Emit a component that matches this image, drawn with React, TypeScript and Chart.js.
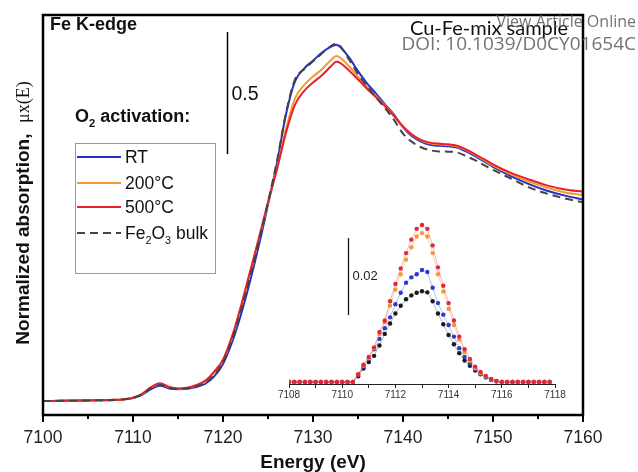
import React, { useEffect, useRef } from "react";
import { Chart, registerables } from "chart.js";
Chart.register(...registerables);

const SANS = "'Liberation Sans', Arial, sans-serif";
Chart.defaults.font.family = SANS;

// ---------- main XANES spectra ----------
const energies = [7100, 7102, 7104, 7106, 7108, 7109, 7110, 7111, 7112, 7113, 7114, 7115, 7116, 7117, 7118, 7119, 7120, 7121, 7122, 7123, 7124, 7125, 7126, 7127, 7128, 7129, 7130, 7131, 7132, 7132.6, 7133, 7134, 7135, 7136, 7137, 7138, 7139, 7140, 7141, 7142, 7143, 7144, 7145, 7146, 7147, 7148, 7149, 7150, 7152, 7154, 7156, 7158, 7160];

const muRT = [0.000, 0.001, 0.002, 0.003, 0.004, 0.007, 0.013, 0.026, 0.049, 0.063, 0.052, 0.049, 0.051, 0.058, 0.070, 0.100, 0.152, 0.240, 0.355, 0.490, 0.640, 0.805, 0.975, 1.175, 1.310, 1.362, 1.395, 1.428, 1.452, 1.460, 1.452, 1.408, 1.352, 1.302, 1.260, 1.216, 1.174, 1.122, 1.085, 1.063, 1.050, 1.046, 1.044, 1.039, 1.023, 1.004, 0.982, 0.960, 0.922, 0.889, 0.862, 0.842, 0.826];

const mu200 = [0.000, 0.001, 0.002, 0.003, 0.005, 0.008, 0.014, 0.029, 0.055, 0.070, 0.057, 0.051, 0.054, 0.064, 0.081, 0.117, 0.166, 0.260, 0.385, 0.525, 0.665, 0.812, 0.955, 1.115, 1.240, 1.295, 1.330, 1.360, 1.398, 1.414, 1.408, 1.372, 1.330, 1.288, 1.250, 1.211, 1.170, 1.124, 1.090, 1.068, 1.056, 1.052, 1.049, 1.043, 1.028, 1.009, 0.987, 0.965, 0.929, 0.899, 0.874, 0.855, 0.844];

const mu500 = [0.000, 0.001, 0.002, 0.003, 0.005, 0.008, 0.014, 0.030, 0.057, 0.073, 0.058, 0.052, 0.055, 0.065, 0.083, 0.120, 0.170, 0.265, 0.390, 0.530, 0.670, 0.815, 0.950, 1.100, 1.215, 1.270, 1.305, 1.335, 1.372, 1.390, 1.386, 1.355, 1.318, 1.280, 1.245, 1.208, 1.168, 1.125, 1.092, 1.070, 1.059, 1.055, 1.052, 1.046, 1.031, 1.012, 0.991, 0.970, 0.935, 0.908, 0.884, 0.867, 0.858];

const muFe2O3 = [0.000, 0.001, 0.002, 0.003, 0.004, 0.007, 0.013, 0.027, 0.052, 0.066, 0.054, 0.050, 0.052, 0.060, 0.074, 0.106, 0.158, 0.250, 0.370, 0.505, 0.655, 0.815, 0.985, 1.180, 1.318, 1.360, 1.392, 1.425, 1.455, 1.465, 1.455, 1.400, 1.340, 1.290, 1.245, 1.200, 1.152, 1.096, 1.062, 1.040, 1.028, 1.023, 1.022, 1.019, 1.004, 0.987, 0.967, 0.947, 0.912, 0.876, 0.850, 0.830, 0.815];

const xMajorTicks = [7100, 7110, 7120, 7130, 7140, 7150, 7160];
const xMinorTicks = [7105, 7115, 7125, 7135, 7145, 7155];
const scaleBarMain = [1.012, 1.512]; // 0.5 units
const scaleBarMainE = 7120.4;

// ---------- inset: pre-edge peak ----------
const insetE = [7108.0, 7108.2, 7108.4, 7108.6, 7108.8, 7109.0, 7109.2, 7109.4, 7109.6, 7109.8, 7110.0, 7110.2, 7110.4, 7110.6, 7110.8, 7111.0, 7111.2, 7111.4, 7111.6, 7111.8, 7112.0, 7112.2, 7112.4, 7112.6, 7112.8, 7113.0, 7113.2, 7113.4, 7113.6, 7113.8, 7114.0, 7114.2, 7114.4, 7114.6, 7114.8, 7115.0, 7115.2, 7115.4, 7115.6, 7115.8, 7116.0, 7116.2, 7116.4, 7116.6, 7116.8, 7117.0, 7117.2, 7117.4, 7117.6, 7117.8];

const preRT = [0, 0, 0, 0, 0, 0, 0, 0, 0, 0, 0, 0, 0, 0.0018, 0.0040, 0.0060, 0.0085, 0.0112, 0.0140, 0.0168, 0.0202, 0.0232, 0.0258, 0.0272, 0.0280, 0.0291, 0.0286, 0.0245, 0.0205, 0.0175, 0.0148, 0.0118, 0.0088, 0.0065, 0.0048, 0.0033, 0.0021, 0.0013, 0.0006, 0.0002, 0, 0, 0, 0, 0, 0, 0, 0, 0, 0];

const pre200 = [0, 0, 0, 0, 0, 0, 0, 0, 0, 0, 0, 0, 0, 0.0020, 0.0043, 0.0062, 0.0088, 0.0125, 0.0155, 0.0198, 0.0240, 0.0280, 0.0318, 0.0350, 0.0378, 0.0387, 0.0378, 0.0335, 0.0280, 0.0235, 0.0190, 0.0148, 0.0110, 0.0078, 0.0055, 0.0036, 0.0023, 0.0014, 0.0007, 0.0003, 0, 0, 0, 0, 0, 0, 0, 0, 0, 0];

const pre500 = [0, 0, 0, 0, 0, 0, 0, 0, 0, 0, 0, 0, 0, 0.0020, 0.0045, 0.0065, 0.0090, 0.0130, 0.0160, 0.0210, 0.0255, 0.0295, 0.0335, 0.0370, 0.0398, 0.0408, 0.0398, 0.0355, 0.0298, 0.0250, 0.0205, 0.0160, 0.0118, 0.0085, 0.0060, 0.0040, 0.0026, 0.0016, 0.0008, 0.0003, 0, 0, 0, 0, 0, 0, 0, 0, 0, 0];

const preFe2O3 = [0, 0, 0, 0, 0, 0, 0, 0, 0, 0, 0, 0, 0, 0.0015, 0.0035, 0.0052, 0.0068, 0.0095, 0.0125, 0.0152, 0.0178, 0.0198, 0.0215, 0.0225, 0.0232, 0.0236, 0.0233, 0.0210, 0.0178, 0.0150, 0.0122, 0.0098, 0.0075, 0.0056, 0.0042, 0.0030, 0.0020, 0.0012, 0.0006, 0.0002, 0, 0, 0, 0, 0, 0, 0, 0, 0, 0];

const insetTicks = [7108, 7109, 7110, 7111, 7112, 7113, 7114, 7115, 7116, 7117, 7118];
const insetLabels = [7108, 7110, 7112, 7114, 7116, 7118];
const scaleBarInset = [0.0174, 0.0374]; // 0.02 units
const scaleBarInsetE = 7110.22;

const seriesLabels = ["RT", "200°C", "500°C", "Fe₂O₃ bulk"];
const seriesColors = ["#2230cc", "#f59a2e", "#e8202a", "#444444"];
const insetPointColors = ["#2a3ad0", "#f39a3c", "#e3263c", "#1a1a1a"];
const insetLineColors = ["rgba(90,100,230,0.55)", "rgba(245,160,70,0.55)", "rgba(235,80,90,0.55)", "rgba(60,60,60,0.45)"];

const pts = (xs: number[], ys: number[]) => xs.map((x, i) => ({ x, y: ys[i] }));

type Part = [string, "n" | "sub" | "sup"];
function drawParts(ctx: CanvasRenderingContext2D, parts: Part[], x: number, y: number, size: number, weight: string) {
  let cx = x;
  for (const [t, kind] of parts) {
    const s = kind === "n" ? size : size * 0.62;
    ctx.font = `${weight} ${s}px ${SANS}`;
    const dy = kind === "sub" ? size * 0.3 : kind === "sup" ? -size * 0.42 : 0;
    ctx.fillText(t, cx, y + dy);
    cx += ctx.measureText(t).width;
  }
  return cx;
}

const mainDecor = {
  id: "mainDecor",
  afterDraw(chart: any) {
    const { ctx, chartArea, scales } = chart;
    const xs = scales.x, ys = scales.y;
    ctx.save();
    // frame
    ctx.strokeStyle = "#000";
    ctx.lineWidth = 2.5;
    ctx.strokeRect(chartArea.left, chartArea.top, chartArea.right - chartArea.left, chartArea.bottom - chartArea.top);
    // ticks
    ctx.lineWidth = 2;
    const b = chartArea.bottom;
    for (const v of xMajorTicks) {
      const px = xs.getPixelForValue(v);
      ctx.beginPath(); ctx.moveTo(px, b); ctx.lineTo(px, b + 7); ctx.stroke();
    }
    for (const v of xMinorTicks) {
      const px = xs.getPixelForValue(v);
      ctx.beginPath(); ctx.moveTo(px, b); ctx.lineTo(px, b + 4); ctx.stroke();
    }
    // scale bar 0.5
    ctx.lineWidth = 1.5;
    const sbx = Math.round(xs.getPixelForValue(scaleBarMainE)) + 0.5;
    ctx.beginPath();
    ctx.moveTo(sbx, ys.getPixelForValue(scaleBarMain[1]));
    ctx.lineTo(sbx, ys.getPixelForValue(scaleBarMain[0]));
    ctx.stroke();
    ctx.fillStyle = "#111";
    ctx.textBaseline = "alphabetic";
    ctx.textAlign = "left";
    ctx.font = `19.5px ${SANS}`;
    ctx.fillText("0.5", sbx + 4, 100);

    // labels
    ctx.font = `bold 18px ${SANS}`;
    ctx.fillText("Fe K-edge", 50, 30);
    ctx.font = `20px Lato, 'Open Sans', sans-serif`;
    ctx.fillText("Cu-Fe-mix sample", 410, 35);

    drawParts(ctx, [["O", "n"], ["2", "sub"], [" activation:", "n"]], 75, 122, 18, "bold");

    // legend box
    ctx.strokeStyle = "#9a9a9a";
    ctx.lineWidth = 1;
    ctx.strokeRect(75.5, 143.5, 140, 130);
    const rows = [157, 183, 207, 233];
    const base = [163, 189, 213, 239];
    seriesLabels.forEach((lab, i) => {
      const ds = chart.data.datasets.find((d: any) => d.label === lab);
      ctx.strokeStyle = ds.borderColor;
      ctx.lineWidth = 2;
      ctx.setLineDash(ds.borderDash || []);
      ctx.beginPath(); ctx.moveTo(77, rows[i]); ctx.lineTo(121, rows[i]); ctx.stroke();
      ctx.setLineDash([]);
      ctx.fillStyle = "#111";
      if (lab.startsWith("Fe")) {
        drawParts(ctx, [["Fe", "n"], ["2", "sub"], ["O", "n"], ["3", "sub"], [" bulk", "n"]], 125, base[i], 17.5, "normal");
      } else {
        ctx.font = `17.5px ${SANS}`;
        ctx.fillText(lab, 125, base[i]);
      }
    });

    // axis titles
    ctx.fillStyle = "#111";
    ctx.textAlign = "center";
    ctx.textBaseline = "middle";
    ctx.font = `bold 19px ${SANS}`;
    ctx.fillText("Energy (eV)", (chartArea.left + chartArea.right) / 2, 463);

    ctx.save();
    ctx.translate(24, 213);
    ctx.rotate(-Math.PI / 2);
    ctx.textAlign = "left";
    ctx.font = `bold 19px ${SANS}`;
    const t1 = "Normalized absorption,  ";
    const w1 = ctx.measureText(t1).width;
    ctx.font = `18px 'Liberation Serif', 'DejaVu Serif', serif`;
    const t2 = "μx(E)";
    const w2 = ctx.measureText(t2).width;
    const start = -(w1 + w2) / 2;
    ctx.font = `bold 19px ${SANS}`;
    ctx.fillText(t1, start, 0);
    ctx.font = `18px 'Liberation Serif', 'DejaVu Serif', serif`;
    ctx.fillText(t2, start + w1, 0);
    ctx.restore();

    // watermark
    ctx.textAlign = "right";
    ctx.textBaseline = "alphabetic";
    ctx.fillStyle = "rgba(100,100,100,0.9)";
    ctx.font = `16px 'Open Sans', sans-serif`;
    ctx.fillText("View Article Online", 636, 27);
    ctx.font = `19px 'Open Sans', sans-serif`;
    ctx.fillText("DOI: 10.1039/D0CY01654C", 636, 50);
    ctx.restore();
  },
};

const insetDecor = {
  id: "insetDecor",
  afterDraw(chart: any) {
    const { ctx, scales } = chart;
    const xs = scales.x, ys = scales.y;
    ctx.save();
    ctx.strokeStyle = "#111";
    ctx.lineWidth = 1.3;
    const px = Math.round(xs.getPixelForValue(scaleBarInsetE)) + 0.5;
    ctx.beginPath();
    ctx.moveTo(px, ys.getPixelForValue(scaleBarInset[1]));
    ctx.lineTo(px, ys.getPixelForValue(scaleBarInset[0]));
    ctx.stroke();
    ctx.fillStyle = "#222";
    ctx.font = `13px ${SANS}`;
    ctx.textAlign = "left";
    ctx.fillText("0.02", px + 4, 280);
    ctx.restore();
  },
};

export default function App() {
  const mainRef = useRef<HTMLCanvasElement | null>(null);
  const insetRef = useRef<HTMLCanvasElement | null>(null);

  useEffect(() => {
    const mainSeries = [muRT, mu200, mu500, muFe2O3];
    const order = [3, 2, 1, 0];
    const main = new Chart(mainRef.current!, {
      type: "line",
      data: {
        datasets: seriesLabels.map((label, i) => ({
          label,
          data: pts(energies, mainSeries[i]),
          borderColor: seriesColors[i],
          borderWidth: 2,
          borderDash: i === 3 ? [8, 5] : [],
          pointRadius: 0,
          fill: false,
          order: order[i],
          cubicInterpolationMode: "monotone" as const,
        })),
      },
      options: {
        responsive: false,
        animation: false,
        layout: { padding: { left: 43, right: 55, top: 15, bottom: 0 } },
        plugins: { legend: { display: false }, tooltip: { enabled: false } },
        scales: {
          x: {
            type: "linear",
            min: 7100,
            max: 7160,
            afterFit: (s: any) => { s.height = 57; },
            afterBuildTicks: (s: any) => { s.ticks = xMajorTicks.map((v) => ({ value: v })); },
            grid: { display: true, drawOnChartArea: false, drawTicks: false },
            border: { display: false },
            ticks: { font: { size: 17.5 }, color: "#222", padding: 13, autoSkip: false, maxRotation: 0, callback: (v: any) => String(v) },
          },
          y: { display: false, min: -0.057, max: 1.582 },
        },
      },
      plugins: [mainDecor],
    });

    const insetSeries = [preRT, pre200, pre500, preFe2O3];
    const insetOrder = [2, 1, 0, 3];
    const inset = new Chart(insetRef.current!, {
      type: "line",
      data: {
        datasets: seriesLabels.map((label, i) => ({
          label,
          data: pts(insetE, insetSeries[i]),
          borderColor: insetLineColors[i],
          borderWidth: 0.8,
          pointRadius: 2.2,
          pointBorderWidth: 0,
          pointBackgroundColor: insetPointColors[i],
          fill: false,
          tension: 0,
          order: insetOrder[i],
        })),
      },
      options: {
        responsive: false,
        animation: false,
        layout: { padding: { left: 289, right: 83, top: 215, bottom: 0 } },
        plugins: { legend: { display: false }, tooltip: { enabled: false } },
        scales: {
          x: {
            type: "linear",
            min: 7108,
            max: 7118,
            afterFit: (s: any) => { s.height = 88; },
            afterBuildTicks: (s: any) => { s.ticks = insetTicks.map((v) => ({ value: v })); },
            grid: { display: true, drawOnChartArea: false, drawTicks: true, tickLength: 4, color: "#222", tickWidth: 1 },
            border: { display: true, color: "#222", width: 1 },
            ticks: {
              font: { size: 10 },
              color: "#333",
              padding: 1,
              autoSkip: false,
              maxRotation: 0,
              callback: (v: any) => (insetLabels.includes(Number(v)) ? String(v) : ""),
            },
          },
          y: { display: false, min: -0.00052, max: 0.0434 },
        },
      },
      plugins: [insetDecor],
    });

    return () => {
      main.destroy();
      inset.destroy();
    };
  }, []);

  return (
    <div style={{ position: "fixed", left: 0, top: 0, width: 638, height: 472, background: "#fff" }}>
      <canvas ref={mainRef} width={638} height={472} style={{ position: "absolute", left: 0, top: 0 }} />
      <canvas ref={insetRef} width={638} height={472} style={{ position: "absolute", left: 0, top: 0 }} />
    </div>
  );
}
